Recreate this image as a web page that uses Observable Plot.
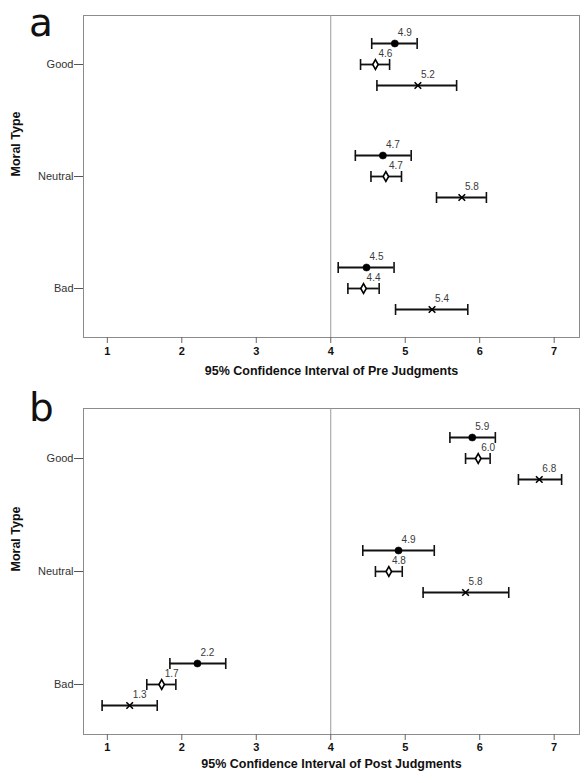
<!DOCTYPE html>
<html><head><meta charset="utf-8">
<script src="https://cdn.jsdelivr.net/npm/d3@7"></script>
<script src="https://cdn.jsdelivr.net/npm/@observablehq/plot@0.6"></script>
<style>
html,body{margin:0;padding:0;background:#fff;}
#wrap{position:relative;width:588px;height:783px;overflow:hidden;}
#chart svg{display:block;}
.letter{position:absolute;left:29px;font-family:'DejaVu Sans',sans-serif;font-size:39px;line-height:40px;height:40px;color:#111;pointer-events:none;}
</style></head><body>
<div id="wrap"><div id="chart"></div>
<div class="letter" style="top:3px">a</div>
<div class="letter" style="top:388px">b</div>
</div>
<script>
const categories = ["Good", "Neutral", "Bad"];
const seriesNames = ["Filled circle", "Open diamond", "Cross"];
const xTicks = [1, 2, 3, 4, 5, 6, 7];
const referenceValue = 4;
const yTitle = "Moral Type";
const preTitle = "95% Confidence Interval of Pre Judgments";
const postTitle = "95% Confidence Interval of Post Judgments";
// rows: categories (Good, Neutral, Bad); columns: series (circle, diamond, cross)
const preMean = [[4.86, 4.60, 5.17], [4.70, 4.74, 5.76], [4.48, 4.44, 5.36]];
const preLow  = [[4.55, 4.40, 4.62], [4.33, 4.54, 5.42], [4.10, 4.23, 4.87]];
const preHigh = [[5.16, 4.79, 5.69], [5.08, 4.95, 6.09], [4.85, 4.65, 5.84]];
const postMean = [[5.90, 5.98, 6.80], [4.91, 4.78, 5.81], [2.21, 1.73, 1.30]];
const postLow  = [[5.60, 5.81, 6.52], [4.43, 4.60, 5.24], [1.84, 1.53, 0.93]];
const postHigh = [[6.21, 6.14, 7.10], [5.39, 4.96, 6.39], [2.59, 1.92, 1.67]];

const seriesStyle = [
  {symbol: "circle", r: 3.6, fill: "black", stroke: "black", sw: 0.5, dy: -21},
  {symbol: "diamond", r: 2.9, fill: "white", stroke: "black", sw: 1.6, dy: 0},
  {symbol: "times", r: 3.1, fill: "none", stroke: "black", sw: 1.6, dy: 21}
];
const capSymbol = {draw(context) { context.moveTo(0, -5.5); context.lineTo(0, 5.5); }};
const fmt = d3.format(".1f");

function buildRows(mean, low, high) {
  const rows = [];
  categories.forEach((c, i) => seriesNames.forEach((s, j) => {
    rows.push({category: c, series: s, si: j, mean: mean[i][j], low: low[i][j], high: high[i][j]});
  }));
  return rows;
}

function panel(mean, low, high, xTitle, dims) {
  const rows = buildRows(mean, low, high);
  const marks = [
    Plot.frame({stroke: "#8c8c8c"}),
    Plot.ruleX([referenceValue], {stroke: "#9a9a9a", strokeWidth: 1}),
    Plot.axisX({ticks: xTicks, tickFormat: d => d, tickSize: 6, tickPadding: dims.tickPad, fontSize: 11, fontWeight: "bold", fill: "#111", stroke: "#666", label: null}),
    Plot.axisY({tickSize: 9, tickPadding: 1, fontSize: 11, fill: "#333", stroke: "#555", label: null}),
    Plot.text([xTitle], {frameAnchor: "bottom", dy: dims.titleDy, fontSize: 12.5, fontWeight: "bold", fill: "#111"}),
    Plot.text([yTitle], {frameAnchor: "left", dx: -68, rotate: -90, fontSize: 12.5, fontWeight: "bold", fill: "#111"})
  ];
  seriesStyle.forEach((st, j) => {
    const data = rows.filter(r => r.si === j);
    marks.push(
      Plot.ruleY(data, {y: "category", x1: "low", x2: "high", dy: st.dy, stroke: "#111", strokeWidth: 1.8}),
      Plot.dot(data, {x: "low", y: "category", dy: st.dy, symbol: capSymbol, r: 5, fill: "none", stroke: "#111", strokeWidth: 1.6}),
      Plot.dot(data, {x: "high", y: "category", dy: st.dy, symbol: capSymbol, r: 5, fill: "none", stroke: "#111", strokeWidth: 1.6}),
      Plot.dot(data, {x: "mean", y: "category", dy: st.dy, symbol: st.symbol, r: st.r, fill: st.fill, stroke: st.stroke, strokeWidth: st.sw}),
      Plot.text(data, {x: "mean", y: "category", text: d => fmt(d.mean), dx: 10, dy: st.dy - 11, fontSize: 10, fill: "#3a3a3a"})
    );
  });
  return Plot.plot({
    width: 588,
    height: dims.height,
    marginTop: dims.top,
    marginBottom: dims.bottom,
    marginLeft: 83,
    marginRight: 9,
    style: {fontFamily: "'Liberation Sans', Arial, sans-serif", background: "white", overflow: "visible"},
    x: {domain: [0.68, 7.34]},
    y: {type: "point", domain: categories, padding: 0.43},
    marks
  });
}

const chart = document.getElementById("chart");
chart.append(panel(preMean, preLow, preHigh, preTitle, {height: 390, top: 15, bottom: 53, tickPad: 4, titleDy: 37}));
chart.append(panel(postMean, postLow, postHigh, postTitle, {height: 393, top: 18, bottom: 49, tickPad: 3, titleDy: 33}));
</script>
</body></html>
